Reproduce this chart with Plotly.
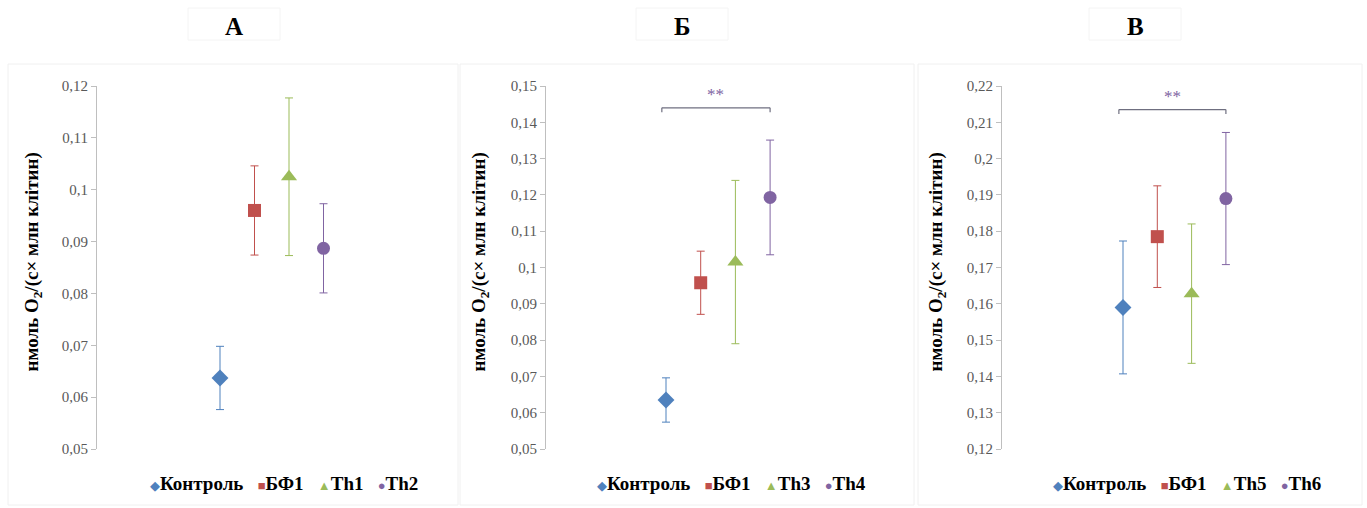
import plotly.graph_objects as go

# ---- data ----
panel_titles = ["А", "Б", "В"]
groups_A = ["Контроль", "БФ1", "Th1", "Th2"]
groups_B = ["Контроль", "БФ1", "Th3", "Th4"]
groups_C = ["Контроль", "БФ1", "Th5", "Th6"]

mean_A = [0.0637, 0.0960, 0.1025, 0.0887]
err_A = [0.0061, 0.0086, 0.0152, 0.0086]
mean_B = [0.0635, 0.0958, 0.1015, 0.1193]
err_B = [0.0061, 0.0087, 0.0225, 0.0158]
mean_C = [0.1590, 0.1785, 0.1628, 0.1890]
err_C = [0.0183, 0.0140, 0.0192, 0.0182]

ticks_A = [0.05, 0.06, 0.07, 0.08, 0.09, 0.10, 0.11, 0.12]
ticklabels_A = ["0,05", "0,06", "0,07", "0,08", "0,09", "0,1", "0,11", "0,12"]
ticks_B = [0.05, 0.06, 0.07, 0.08, 0.09, 0.10, 0.11, 0.12, 0.13, 0.14, 0.15]
ticklabels_B = ["0,05", "0,06", "0,07", "0,08", "0,09", "0,1", "0,11", "0,12", "0,13", "0,14", "0,15"]
ticks_C = [0.12, 0.13, 0.14, 0.15, 0.16, 0.17, 0.18, 0.19, 0.20, 0.21, 0.22]
ticklabels_C = ["0,12", "0,13", "0,14", "0,15", "0,16", "0,17", "0,18", "0,19", "0,2", "0,21", "0,22"]

sig_B = {"from": 0, "to": 3, "level": 0.1440, "label": "**"}
sig_C = {"from": 0, "to": 3, "level": 0.2135, "label": "**"}

y_title = "нмоль O<sub>2</sub>/(с× млн клітин)"

# ---- styles ----
colors = ["#4F81BD", "#C0504D", "#9BBB59", "#8064A2"]
symbols = ["diamond", "square", "triangle-up", "circle"]
legend_glyphs = ["◆", "■", "▲", "●"]
sizes = [13, 13, 14, 13]
SERIF = "Liberation Serif"
W, H = 1367, 508

panels = [
    dict(groups=groups_A, mean=mean_A, err=err_A, ticks=ticks_A, labels=ticklabels_A,
         yr=[0.05, 0.12], axis_px=97, first_px=220, step_px=34.5, right_px=440, sig=None,
         title_px=234, ytitle_px=33, legend_px=284),
    dict(groups=groups_B, mean=mean_B, err=err_B, ticks=ticks_B, labels=ticklabels_B,
         yr=[0.05, 0.15], axis_px=546, first_px=666, step_px=34.7, right_px=890, sig=sig_B,
         title_px=682, ytitle_px=480, legend_px=731),
    dict(groups=groups_C, mean=mean_C, err=err_C, ticks=ticks_C, labels=ticklabels_C,
         yr=[0.12, 0.22], axis_px=1002, first_px=1123, step_px=34.3, right_px=1345, sig=sig_C,
         title_px=1135, ytitle_px=937, legend_px=1187),
]
frames_px = [(8, 458), (460, 914), (918, 1362)]

top_px, bot_px = 86, 449
ydom = [(H - bot_px) / H, (H - top_px) / H]

fig = go.Figure()
layout = dict(width=W, height=H, margin=dict(l=0, r=0, t=0, b=0, autoexpand=False),
              paper_bgcolor="white", plot_bgcolor="white", showlegend=False)
shapes, annotations = [], []

for p_i, p in enumerate(panels):
    n = p_i + 1
    xa = "x" if n == 1 else f"x{n}"
    ya = "y" if n == 1 else f"y{n}"
    xs = list(range(1, len(p["groups"]) + 1))
    x0 = 1 - (p["first_px"] - p["axis_px"]) / p["step_px"]
    x1 = 1 + (p["right_px"] - p["first_px"]) / p["step_px"]
    layout["xaxis" if n == 1 else f"xaxis{n}"] = dict(
        domain=[p["axis_px"] / W, p["right_px"] / W], range=[x0, x1],
        visible=False, anchor=ya)
    layout["yaxis" if n == 1 else f"yaxis{n}"] = dict(
        domain=ydom, range=p["yr"], anchor=xa, tickvals=p["ticks"], ticktext=p["labels"],
        showgrid=False, zeroline=False, showline=True, linecolor="#BFBFBF", linewidth=1,
        ticks="outside", ticklen=5, tickcolor="#BFBFBF",
        tickfont=dict(family=SERIF, size=15, color="#595959"))
    for i, g in enumerate(p["groups"]):
        fig.add_trace(go.Scatter(
            x=[xs[i]], y=[p["mean"][i]], mode="markers", xaxis=xa, yaxis=ya, name=g,
            marker=dict(symbol=symbols[i], size=sizes[i], color=colors[i]),
            error_y=dict(type="data", array=[p["err"][i]], color=colors[i],
                         thickness=1, width=4),
            hoverinfo="name+y"))
    # legend row (built from group names and series colours)
    parts = []
    for i, g in enumerate(p["groups"]):
        parts.append(f"<span style='color:{colors[i]};font-size:13px'>{legend_glyphs[i]}</span>"
                     f"<b>{g}</b>")
    annotations.append(dict(xref="paper", yref="paper", x=p["legend_px"] / W, y=(H - 483) / H,
                            text="   ".join(parts), showarrow=False,
                            font=dict(family=SERIF, size=19, color="black"),
                            xanchor="center", yanchor="middle"))
    # panel frame
    fx0, fx1 = frames_px[p_i]
    shapes.append(dict(type="rect", xref="paper", yref="paper",
                       x0=fx0 / W, x1=fx1 / W, y0=(H - 505) / H, y1=(H - 64) / H,
                       line=dict(color="#F0F0F0", width=1), layer="below"))
    # panel title
    annotations.append(dict(xref="paper", yref="paper", x=p["title_px"] / W, y=(H - 26) / H,
                            text=f"<b>{panel_titles[p_i]}</b>", showarrow=False,
                            font=dict(family=SERIF, size=25, color="black"),
                            xanchor="center", yanchor="middle"))
    shapes.append(dict(type="rect", xref="paper", yref="paper",
                       x0=(p["title_px"] - 46) / W, x1=(p["title_px"] + 46) / W,
                       y0=(H - 40) / H, y1=(H - 8) / H,
                       line=dict(color="#F4F4F4", width=1), layer="below"))
    # y-axis title
    annotations.append(dict(xref="paper", yref="paper", x=p["ytitle_px"] / W,
                            y=(ydom[0] + ydom[1]) / 2 + 0.01, text=f"<b>{y_title}</b>",
                            textangle=-90, showarrow=False,
                            font=dict(family=SERIF, size=19, color="black"),
                            xanchor="center", yanchor="middle"))
    # significance bracket
    s = p["sig"]
    if s is not None:
        xl = xs[s["from"]] - 0.12
        xr = xs[s["to"]]
        lvl = s["level"]
        drop = (p["yr"][1] - p["yr"][0]) * 0.012
        for (ax0, ay0, ax1, ay1) in [(xl, lvl, xr, lvl), (xl, lvl, xl, lvl - drop),
                                     (xr, lvl, xr, lvl - drop)]:
            shapes.append(dict(type="line", xref=xa, yref=ya, x0=ax0, y0=ay0, x1=ax1, y1=ay1,
                               line=dict(color="#6F6F80", width=1.2)))
        annotations.append(dict(xref=xa, yref=ya, x=(xl + xr) / 2, y=lvl,
                                text=s["label"], showarrow=False, yshift=13,
                                font=dict(family=SERIF, size=17, color="#8064A2"),
                                xanchor="center", yanchor="middle"))

layout["shapes"] = shapes
layout["annotations"] = annotations
fig.update_layout(**layout)
fig.write_html("out.html")
